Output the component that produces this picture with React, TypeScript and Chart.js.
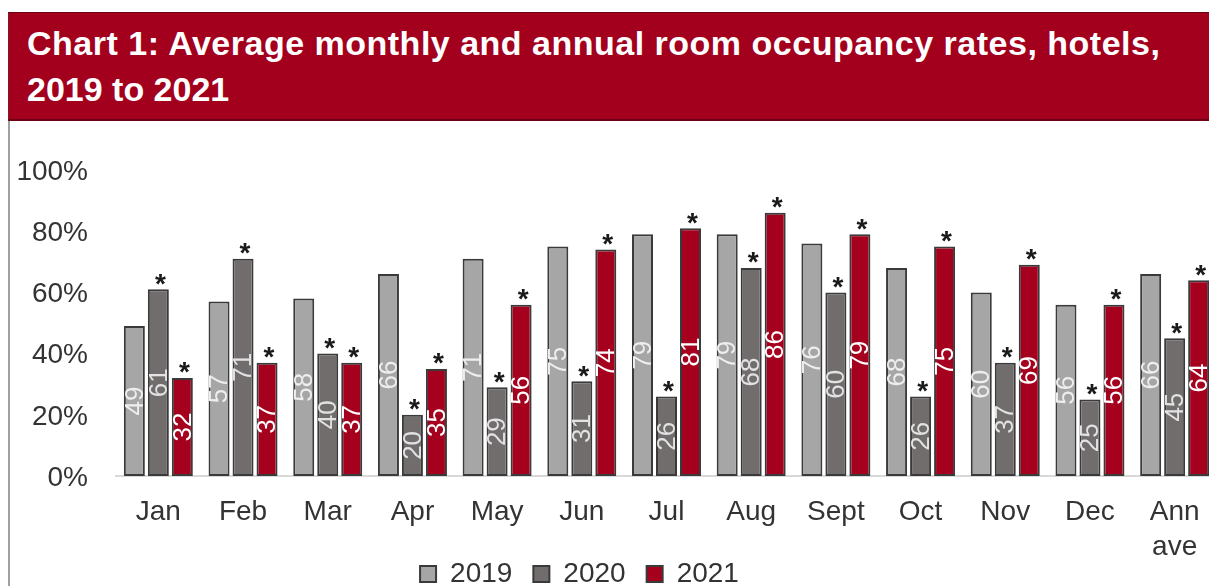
import React, { useEffect, useRef } from 'react';
import { Chart, registerables } from 'chart.js';

Chart.register(...registerables);

const FONT = '"Liberation Sans", Arial, Helvetica, sans-serif';

const titleLines = [
  'Chart 1: Average monthly and annual room occupancy rates, hotels,',
  '2019 to 2021',
];
const categories: (string | string[])[] = [
  'Jan', 'Feb', 'Mar', 'Apr', 'May', 'Jun', 'Jul', 'Aug', 'Sept', 'Oct', 'Nov', 'Dec', ['Ann', 'ave'],
];
const seriesNames = ['2019', '2020', '2021'];
const values2019 = [49, 57, 58, 66, 71, 75, 79, 79, 76, 68, 60, 56, 66];
const values2020 = [61, 71, 40, 20, 29, 31, 26, 68, 60, 26, 37, 25, 45];
const values2021 = [32, 37, 37, 35, 56, 74, 81, 86, 79, 75, 69, 56, 64];
const yTickValues = [0, 20, 40, 60, 80, 100];
const markedSeries = [false, true, true]; // series flagged with an asterisk

const fillColors = ['#A6A6A6', '#716D6D', '#A5001E'];
const labelColors = ['#EEEEEE', '#E2E2E2', '#FFFFFF'];

const barLabelPlugin = {
  id: 'barLabels',
  afterDatasetsDraw(chart: any) {
    const ctx = chart.ctx;
    chart.data.datasets.forEach((ds: any, i: number) => {
      const meta = chart.getDatasetMeta(i);
      meta.data.forEach((bar: any, j: number) => {
        const { x, y, base } = bar.getProps(['x', 'y', 'base'], true);
        const v = ds.data[j];
        ctx.save();
        ctx.translate(x, (y + base) / 2);
        ctx.rotate(-Math.PI / 2);
        ctx.font = `26px ${FONT}`;
        ctx.fillStyle = labelColors[i];
        ctx.textAlign = 'center';
        ctx.textBaseline = 'middle';
        ctx.fillText(String(v), 0, 1);
        ctx.restore();
        if (markedSeries[i]) {
          ctx.save();
          ctx.font = `bold 28px ${FONT}`;
          ctx.fillStyle = '#1a1a1a';
          ctx.textAlign = 'center';
          ctx.textBaseline = 'alphabetic';
          // asterisk glyph centre sits ~0.55em above baseline
          ctx.fillText('*', x + 2, y - 12 + 0.55 * 28);
          ctx.restore();
        }
      });
    });
  },
};

const layoutTweakPlugin = {
  id: 'layoutTweak',
  afterLayout(chart: any) {
    const lg = chart.legend;
    if (lg) {
      lg.left -= 29;
      lg.right -= 29;
    }
    // let the two-line "Ann / ave" label draw below the compact axis box
    const xs = chart.scales.x;
    if (xs) xs.bottom = chart.height;
  },
};

export default function App() {
  const canvasRef = useRef<HTMLCanvasElement | null>(null);

  useEffect(() => {
    if (!canvasRef.current) return;
    const series = [values2019, values2020, values2021];
    const chart = new Chart(canvasRef.current, {
      type: 'bar',
      data: {
        labels: categories as any,
        datasets: series.map((vals, i) => ({
          label: seriesNames[i],
          data: vals,
          backgroundColor: fillColors[i],
          borderColor: '#3a3a3a',
          borderWidth: 2,
          borderSkipped: false,
          categoryPercentage: 0.85,
          barPercentage: 0.875,
        })),
      },
      options: {
        responsive: false,
        animation: false,
        devicePixelRatio: 1,
        layout: { padding: { top: 170, right: 13, bottom: 0, left: 0 } },
        plugins: {
          legend: {
            position: 'bottom',
            labels: {
              boxWidth: 16,
              boxHeight: 16,
              padding: 21,
              color: '#333333',
              font: { size: 28, family: FONT },
            },
          },
          tooltip: { enabled: false },
          title: { display: false },
        },
        scales: {
          x: {
            grid: { display: false, drawTicks: false },
            border: { display: true, color: '#D9D9D9', width: 2 },
            ticks: {
              padding: 19,
              color: '#333333',
              maxRotation: 0,
              autoSkip: false,
              font: { size: 28, family: FONT, lineHeight: 1.25 },
            },
            afterFit: (s: any) => {
              s.height = 63;
            },
          },
          y: {
            min: 0,
            max: 100,
            grid: { display: false, drawTicks: false },
            border: { display: false },
            afterBuildTicks: (s: any) => {
              s.ticks = yTickValues.map((v) => ({ value: v }));
            },
            ticks: {
              padding: 28,
              labelOffset: 2,
              color: '#333333',
              font: { size: 28, family: FONT },
              callback: (v: any) => `${v}%`,
            },
            afterFit: (s: any) => {
              s.width = 116;
            },
          },
        },
      },
      plugins: [barLabelPlugin, layoutTweakPlugin],
    } as any);
    return () => chart.destroy();
  }, []);

  return (
    <div
      style={{
        position: 'fixed',
        left: 0,
        top: 0,
        width: 1209,
        height: 586,
        overflow: 'hidden',
        background: '#FFFFFF',
      }}
    >
      <canvas
        ref={canvasRef}
        width={1230}
        height={598}
        style={{ position: 'absolute', left: 0, top: 0, width: 1230, height: 598 }}
      />
      <div
        style={{
          position: 'absolute',
          left: 8,
          top: 12,
          width: 1240,
          height: 109,
          boxSizing: 'border-box',
          background: '#A3001E',
          borderTop: '1px solid #6E0016',
          borderBottom: '2px solid #6E0016',
          borderLeft: '1px solid #7a1a2a',
        }}
      />
      <div
        style={{
          position: 'absolute',
          left: 8,
          top: 121,
          width: 2,
          height: 470,
          background: '#A0A0A0',
        }}
      />
      {titleLines.map((t, i) => (
        <div
          key={i}
          style={{
            position: 'absolute',
            left: 27,
            top: i === 0 ? 26 : 72,
            font: `bold 34px ${FONT}`,
            lineHeight: '34px',
            color: '#FFFFFF',
            whiteSpace: 'nowrap',
            letterSpacing: i === 0 ? '0.5px' : '0px',
          }}
        >
          {t}
        </div>
      ))}
    </div>
  );
}
